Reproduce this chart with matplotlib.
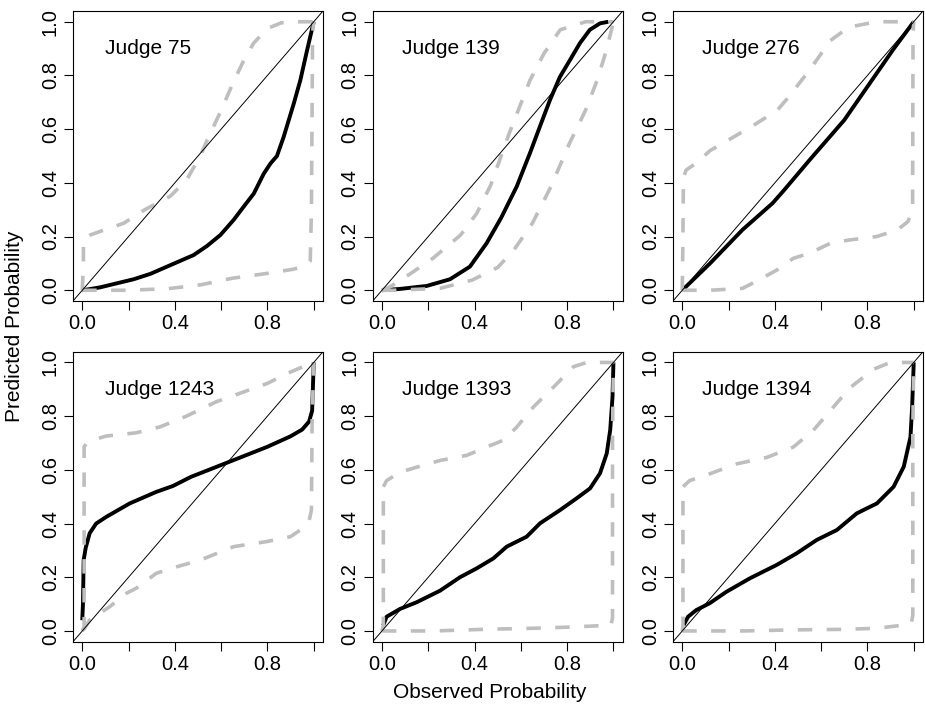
import matplotlib
matplotlib.use("Agg")
import matplotlib.pyplot as plt

plt.rcParams.update({
    "font.family": ["Liberation Sans", "DejaVu Sans"],
    "axes.linewidth": 0.8,
})

# ── Data ──────────────────────────────────────────────────────────────────────

judges = ["75", "139", "276", "1243", "1393", "1394"]

# Judge 75
obs_75 = [0, 0.03, 0.078, 0.15, 0.222, 0.294, 0.366, 0.438, 0.481, 0.539,
          0.597, 0.654, 0.697, 0.741, 0.784, 0.813, 0.841, 0.87, 0.914, 0.942,
          0.971, 1.0]
pred_75 = [0, 0.004, 0.011, 0.026, 0.041, 0.061, 0.088, 0.115, 0.131, 0.165,
           0.206, 0.262, 0.311, 0.36, 0.434, 0.472, 0.5, 0.571, 0.696, 0.782,
           0.893, 1.0]
up_x_75 = [0, 0.005, 0.005, 0.035, 0.08, 0.18, 0.27, 0.38, 0.45, 0.51, 0.54,
           0.60, 0.65, 0.70, 0.74, 0.80, 0.86, 0.94, 1.0]
up_y_75 = [0, 0.1, 0.187, 0.206, 0.22, 0.25, 0.30, 0.35, 0.41, 0.50, 0.56,
           0.67, 0.77, 0.86, 0.92, 0.975, 0.996, 1.0, 1.0]
lo_x_75 = [0, 0.04, 0.1, 0.2, 0.37, 0.51, 0.65, 0.80, 0.91, 0.96, 0.985, 0.99,
           0.995, 1.0]
lo_y_75 = [0, 0.0, 0.0, 0.0, 0.006, 0.02, 0.045, 0.063, 0.078, 0.09, 0.11, 0.3,
           0.96, 1.0]

# Judge 139
obs_139 = [0, 0.078, 0.193, 0.294, 0.38, 0.452, 0.515, 0.582, 0.639, 0.682,
           0.726, 0.769, 0.812, 0.855, 0.898, 0.942, 0.978]
pred_139 = [0, 0.005, 0.016, 0.041, 0.088, 0.175, 0.27, 0.386, 0.51, 0.609,
            0.709, 0.795, 0.857, 0.92, 0.97, 0.994, 1.0]
up_x_139 = [0, 0.035, 0.12, 0.22, 0.34, 0.41, 0.47, 0.55, 0.64, 0.70, 0.77,
            0.88, 1.0]
up_y_139 = [0, 0.013, 0.06, 0.119, 0.206, 0.287, 0.392, 0.585, 0.783, 0.882,
            0.97, 1.0, 1.0]
lo_x_139 = [0, 0.05, 0.25, 0.39, 0.5, 0.57, 0.65, 0.73, 0.81, 0.88, 0.93, 0.97,
            1.0]
lo_y_139 = [0, 0, 0.007, 0.038, 0.085, 0.15, 0.25, 0.386, 0.547, 0.671, 0.783,
            0.895, 1.0]

# Judge 276
obs_276 = [0, 0.12, 0.26, 0.39, 0.44, 0.55, 0.70, 0.77, 0.84, 0.91, 1.0]
pred_276 = [0, 0.1, 0.225, 0.324, 0.373, 0.485, 0.634, 0.721, 0.808, 0.895, 1.0]
up_x_276 = [0, 0.003, 0.005, 0.017, 0.06, 0.12, 0.2, 0.3, 0.41, 0.45, 0.55,
            0.64, 0.72, 0.84, 1.0]
up_y_276 = [0, 0.2, 0.42, 0.448, 0.473, 0.52, 0.56, 0.61, 0.67, 0.71, 0.82,
            0.93, 0.98, 1.0, 1.0]
lo_x_276 = [0, 0.12, 0.26, 0.33, 0.41, 0.48, 0.55, 0.64, 0.72, 0.84, 0.93,
            0.975, 0.995, 0.997, 1.0]
lo_y_276 = [0, 0, 0.007, 0.038, 0.076, 0.119, 0.138, 0.175, 0.187, 0.2, 0.225,
            0.256, 0.3, 0.96, 1.0]

# Judge 1243
obs_1243 = [0, 0.003, 0.006, 0.015, 0.032, 0.06, 0.104, 0.205, 0.32, 0.392,
            0.47, 0.6, 0.7, 0.8, 0.9, 0.95, 0.98, 0.993, 1.0]
pred_1243 = [0.04, 0.1, 0.264, 0.31, 0.364, 0.40, 0.425, 0.475, 0.518, 0.54,
             0.574, 0.618, 0.652, 0.686, 0.725, 0.75, 0.78, 0.82, 1.0]
up_x_1243 = [0, 0.008, 0.008, 0.02, 0.046, 0.104, 0.233, 0.336, 0.45, 0.58,
             0.70, 0.80, 0.885, 0.97, 1.0]
up_y_1243 = [0, 0.016, 0.686, 0.70, 0.711, 0.726, 0.738, 0.76, 0.80, 0.854,
             0.891, 0.922, 0.959, 0.99, 1.0]
lo_x_1243 = [0, 0.01, 0.032, 0.118, 0.19, 0.233, 0.32, 0.42, 0.51, 0.654,
             0.798, 0.899, 0.942, 0.98, 0.99, 0.993, 1.0]
lo_y_1243 = [0, 0.01, 0.041, 0.09, 0.14, 0.159, 0.215, 0.242, 0.264, 0.314,
             0.333, 0.351, 0.376, 0.41, 0.45, 0.78, 1.0]

# Judge 1393
obs_1393 = [0.005, 0.02, 0.078, 0.15, 0.251, 0.337, 0.409, 0.481, 0.539, 0.625,
            0.683, 0.769, 0.841, 0.899, 0.942, 0.971, 0.986, 0.996, 1.0]
pred_1393 = [0.02, 0.053, 0.082, 0.107, 0.15, 0.2, 0.233, 0.27, 0.314, 0.351,
             0.401, 0.45, 0.494, 0.531, 0.587, 0.661, 0.748, 0.872, 1.0]
up_x_1393 = [0, 0.006, 0.006, 0.02, 0.078, 0.15, 0.251, 0.366, 0.452, 0.524,
             0.582, 0.654, 0.741, 0.827, 0.885, 1.0]
up_y_1393 = [0, 0.02, 0.537, 0.56, 0.591, 0.61, 0.635, 0.654, 0.685, 0.71,
             0.759, 0.834, 0.908, 0.984, 1.0, 1.0]
lo_x_1393 = [0, 0.02, 0.222, 0.438, 0.654, 0.798, 0.928, 0.99, 0.996, 0.996, 1.0]
lo_y_1393 = [0, 0, 0, 0.006, 0.01, 0.014, 0.019, 0.022, 0.05, 0.72, 1.0]

# Judge 1394
obs_1394 = [0.006, 0.025, 0.061, 0.118, 0.191, 0.292, 0.408, 0.494, 0.581,
            0.668, 0.754, 0.841, 0.913, 0.957, 0.986, 0.993, 1.0]
pred_1394 = [0.022, 0.053, 0.078, 0.103, 0.146, 0.196, 0.246, 0.289, 0.339,
             0.376, 0.438, 0.475, 0.537, 0.612, 0.723, 0.834, 1.0]
up_x_1394 = [0, 0.003, 0.003, 0.032, 0.118, 0.234, 0.364, 0.48, 0.566, 0.639,
             0.725, 0.827, 0.899, 1.0]
up_y_1394 = [0, 0.02, 0.537, 0.56, 0.585, 0.622, 0.646, 0.685, 0.747, 0.82,
             0.906, 0.975, 1.0, 1.0]
lo_x_1394 = [0, 0.02, 0.263, 0.48, 0.697, 0.841, 0.928, 0.99, 0.996, 0.996, 1.0]
lo_y_1394 = [0, 0, 0, 0.004, 0.006, 0.01, 0.019, 0.029, 0.06, 0.75, 1.0]

x_ticks = [0, 0.2, 0.4, 0.6, 0.8, 1.0]
x_ticklabels = ["0.0", "", "0.4", "", "0.8", ""]
y_ticks = [0, 0.2, 0.4, 0.6, 0.8, 1.0]
y_ticklabels = ["0.0", "0.2", "0.4", "0.6", "0.8", "1.0"]

panels = [
    (obs_75, pred_75, up_x_75, up_y_75, lo_x_75, lo_y_75),
    (obs_139, pred_139, up_x_139, up_y_139, lo_x_139, lo_y_139),
    (obs_276, pred_276, up_x_276, up_y_276, lo_x_276, lo_y_276),
    (obs_1243, pred_1243, up_x_1243, up_y_1243, lo_x_1243, lo_y_1243),
    (obs_1393, pred_1393, up_x_1393, up_y_1393, lo_x_1393, lo_y_1393),
    (obs_1394, pred_1394, up_x_1394, up_y_1394, lo_x_1394, lo_y_1394),
]

# ── Layout (pixel boxes of the six panels) ────────────────────────────────────

W, H = 925, 708
lefts = [73, 372.7, 673]
tops = [11, 351.7]
pw, ph = 250, 290
label_x = [0.1, 0.085, 0.085]

fig = plt.figure(figsize=(W / 100, H / 100), dpi=100)

for i, (ox, py, ux, uy, lx, ly) in enumerate(panels):
    r, c = divmod(i, 3)
    ax = fig.add_axes([lefts[c] / W, 1 - (tops[r] + ph) / H, pw / W, ph / H])
    ax.plot(ox, py, color="black", lw=2.8, solid_joinstyle="round",
            solid_capstyle="butt", zorder=2)
    for xs, ys in ((ux, uy), (lx, ly)):
        ax.plot(xs, ys, color="#BEBEBE", lw=2.6, linestyle=(0, (4, 4)),
                dash_capstyle="butt", dash_joinstyle="round", zorder=3)
    ax.plot([-0.04, 1.04], [-0.04, 1.04], color="black", lw=0.7, zorder=4)
    ax.set_xlim(-0.04, 1.04)
    ax.set_ylim(-0.04, 1.04)
    ax.set_xticks(x_ticks)
    ax.set_xticklabels(x_ticklabels)
    ax.set_yticks(y_ticks)
    ax.set_yticklabels(y_ticklabels, rotation=90, va="center")
    ax.tick_params(direction="out", length=6.5, width=0.8, labelsize=14.5, pad=3)
    ax.text(label_x[c], 0.9, f"Judge {judges[i]}", fontsize=15,
            ha="left", va="center")

fig.text(15 / W, 1 - 326 / H, "Predicted Probability", rotation=90,
         ha="center", va="center", fontsize=15)
fig.text(490 / W, 1 - 692 / H, "Observed Probability",
         ha="center", va="center", fontsize=15)

fig.savefig("out.png", dpi=100)
